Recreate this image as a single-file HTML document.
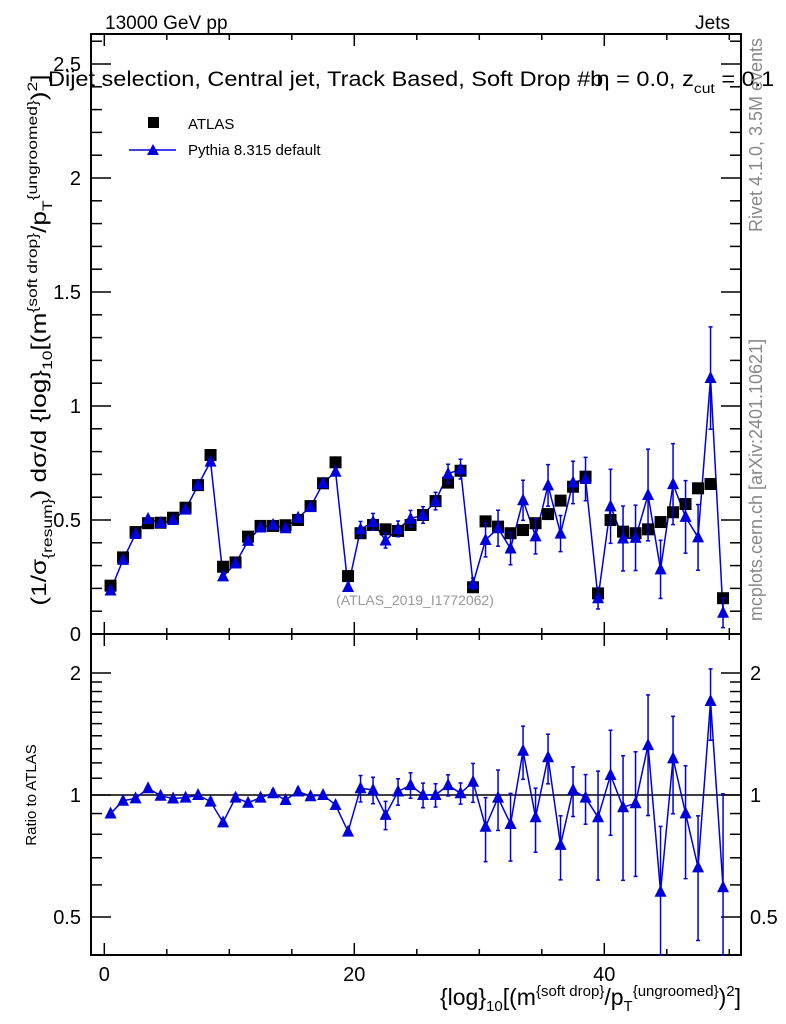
<!DOCTYPE html>
<html><head><meta charset="utf-8"><style>
body{margin:0;background:#fff}
svg{display:block;font-family:"Liberation Sans",sans-serif}
</style></head><body>
<svg id="c" width="786" height="1024" viewBox="0 0 786 1024">
<rect x="0" y="0" width="786" height="1024" fill="#fff"/>
<g id="main"></g>
<g id="ratio"></g>
<text x="105" y="29" font-size="19">13000 GeV pp</text>
<text x="730" y="29" font-size="19" text-anchor="end">Jets</text>
<g transform="translate(48,86) scale(1.12,1)"><text x="0" y="0" font-size="21">Dijet selection, Central jet, Track Based, Soft Drop #b<tspan dx="-6">η = 0.0, z</tspan><tspan font-size="14" dy="7">cut</tspan><tspan dy="-7"> = 0.1</tspan></text></g>
<text x="415" y="605" font-size="14" fill="#999" text-anchor="middle">(ATLAS_2019_I1772062)</text>
<text transform="translate(762,135) rotate(-90)" font-size="18" fill="#888" text-anchor="middle">Rivet 4.1.0,  3.5M events</text>
<text transform="translate(762,480) rotate(-90)" font-size="18" fill="#888" text-anchor="middle">mcplots.cern.ch [arXiv:2401.10621]</text>
<g transform="translate(46,340) rotate(-90) scale(1.25,1)"><text x="0" y="0" font-size="21" text-anchor="middle">(1/σ<tspan font-size="14" dy="6">{resum}</tspan><tspan dy="-6">) dσ/d {log}</tspan><tspan font-size="14" dy="6">10</tspan><tspan dy="-6">[(m</tspan><tspan font-size="14" dy="-9">{soft drop}</tspan><tspan dy="9">/p</tspan><tspan font-size="14" dy="6">T</tspan><tspan font-size="14" dy="-15">{ungroomed}</tspan><tspan dy="9">)</tspan><tspan font-size="14" dy="-9">2</tspan><tspan dy="9">]</tspan></text></g>
<text transform="translate(36,795) rotate(-90)" font-size="15" text-anchor="middle">Ratio to ATLAS</text>
<text x="741" y="1005" font-size="23" text-anchor="end">{log}<tspan font-size="15" dy="6">10</tspan><tspan dy="-6">[(m</tspan><tspan font-size="15" dy="-9">{soft drop}</tspan><tspan dy="9">/p</tspan><tspan font-size="15" dy="6">T</tspan><tspan font-size="15" dy="-15">{ungroomed}</tspan><tspan dy="9">)</tspan><tspan font-size="15" dy="-9">2</tspan><tspan dy="9">]</tspan></text>
<g>
<rect x="148" y="117" width="11" height="11" fill="#000"/>
<text x="188" y="129" font-size="15">ATLAS</text>
<line x1="129" y1="150" x2="176" y2="150" stroke="#0000dd" stroke-width="1.5"/>
<path d="M147,155 L159,155 L153,144 Z" fill="#0000dd"/>
<text x="188" y="155" font-size="15">Pythia 8.315 default</text>
</g>
</svg>
<script>
const xCenters = [];
for (let i = 0; i < 50; i++) xCenters.push(i + 0.5);
const atlasVals = [0.212,0.336,0.447,0.486,0.488,0.51,0.554,0.653,0.785,0.295,0.314,0.427,0.474,0.474,0.477,0.5,0.561,0.661,0.753,0.254,0.442,0.478,0.459,0.452,0.478,0.522,0.583,0.664,0.716,0.205,0.494,0.471,0.442,0.456,0.486,0.526,0.585,0.646,0.69,0.178,0.5,0.449,0.442,0.459,0.491,0.534,0.57,0.639,0.658,0.157];
const ratioVals = [0.9,0.968,0.981,1.039,0.996,0.98,0.985,1.0,0.963,0.856,0.985,0.957,0.985,1.01,0.972,1.02,0.993,1.0,0.945,0.812,1.039,1.029,0.893,1.02,1.058,1.0,1.0,1.058,1.01,1.078,0.835,0.985,0.848,1.286,0.881,1.239,0.753,1.029,0.985,0.881,1.12,0.933,0.954,1.328,0.577,1.231,0.901,0.663,1.706,0.592];
const relErrs = [0.015,0.012,0.012,0.012,0.012,0.012,0.012,0.012,0.02,0.02,0.02,0.015,0.015,0.02,0.015,0.018,0.015,0.015,0.015,0.02,0.075,0.075,0.08,0.075,0.072,0.07,0.066,0.06,0.06,0.11,0.18,0.17,0.19,0.15,0.18,0.14,0.18,0.14,0.14,0.3,0.29,0.34,0.34,0.33,0.45,0.27,0.31,0.34,0.2,0.7];
const mainTicks = [0,0.5,1,1.5,2,2.5];
const mainTickLabels = ["0","0.5","1","1.5","2","2.5"];
const ratioTicks = [0.5,1,2];
const ratioTickLabels = ["0.5","1","2"];
const xTicks = [0,20,40];
const xTickLabels = ["0","20","40"];

const NS = "http://www.w3.org/2000/svg";
const L = 91, R = 741, MT = 34, MB = 634, RB = 955;
const X = v => 104.3 + v * 12.5;
const Y = v => 634 - v * 228;
const YR = v => 795 - Math.log10(v) * 405.3;
const BLUE = "#0000dd";
function mk(parent, tag, attrs) {
  const e = document.createElementNS(NS, tag);
  for (const k in attrs) e.setAttribute(k, attrs[k]);
  parent.appendChild(e);
  return e;
}
const main = document.getElementById("main");
const ratio = document.getElementById("ratio");

let f = mk(main, "rect", {x: L, y: MT, width: R - L, height: MB - MT, fill: "none", stroke: "#000", "stroke-width": 2});


f = mk(ratio, "rect", {x: L, y: MB, width: R - L, height: RB - MB, fill: "none", stroke: "#000", "stroke-width": 2});



for (let v = 0; v <= 50; v += 5) {
  const major = xTicks.indexOf(v) >= 0;
  const len = major ? 12 : 6;
  const px = X(v);
  [[MT, 1], [MB, -1], [MB, 1], [RB, -1]].forEach(([y0, d]) => {
    const t = mk(main, "line", {x1: px, x2: px, y1: y0, y2: y0 + d * len, stroke: "#000", "stroke-width": 1.5});
    
    
  });
}
xTicks.forEach((v, i) => {
  const t = mk(ratio, "text", {x: X(v), y: 981, "font-size": 20, "text-anchor": "middle"});
  t.textContent = xTickLabels[i];
  
  
});

for (let k = 0; k <= 26; k++) {
  const v = k / 10;
  const major = k % 5 === 0;
  const len = major ? 20 : 11;
  const py = Y(v);
  if (py < MT) continue;
  [[L, 1], [R, -1]].forEach(([x0, d]) => {
    const t = mk(main, "line", {x1: x0, x2: x0 + d * len, y1: py, y2: py, stroke: "#000", "stroke-width": 1.5});
    
    
  });
}
mainTicks.forEach((v, i) => {
  const t = mk(main, "text", {x: 81, y: Y(v) + 7, "font-size": 20, "text-anchor": "end"});
  t.textContent = mainTickLabels[i];
  
  
});

const rMinor = [0.4,0.5,0.6,0.7,0.8,0.9,1,1.1,1.2,1.3,1.4,1.5,1.6,1.7,1.8,1.9,2,2.5];
rMinor.forEach(v => {
  const major = ratioTicks.indexOf(v) >= 0;
  const len = major ? 20 : 11;
  const py = YR(v);
  if (py > RB || py < MB) return;
  [[L, 1], [R, -1]].forEach(([x0, d]) => {
    const t = mk(ratio, "line", {x1: x0, x2: x0 + d * len, y1: py, y2: py, stroke: "#000", "stroke-width": 1.5});
    
    
  });
});
ratioTicks.forEach((v, i) => {
  [[81, "end"], [750, "start"]].forEach(([x, a]) => {
    const t = mk(ratio, "text", {x: x, y: YR(v) + 7, "font-size": 20, "text-anchor": a});
    t.textContent = ratioTickLabels[i];
    
    
  });
});
let ref = mk(ratio, "line", {x1: L, x2: R, y1: YR(1), y2: YR(1), stroke: "#000", "stroke-width": 1.5});



const pyVals = atlasVals.map((a, i) => a * ratioVals[i]);
function tri(parent, cx, cy, name) {
  const p = mk(parent, "path", {d: `M${cx-6},${cy+5} L${cx+6},${cy+5} L${cx},${cy-7} Z`, fill: BLUE});
  
  
}
function errBar(parent, cx, y1, y2, name) {
  const g = mk(parent, "g", {stroke: BLUE, "stroke-width": 1.5});
  
  
  mk(g, "line", {x1: cx, x2: cx, y1: y1, y2: y2});
  mk(g, "line", {x1: cx - 2, x2: cx + 2, y1: y1, y2: y1});
  mk(g, "line", {x1: cx - 2, x2: cx + 2, y1: y2, y2: y2});
}
let pts = xCenters.map((x, i) => X(x) + "," + Y(pyVals[i])).join(" ");
let pl = mk(main, "polyline", {points: pts, fill: "none", stroke: BLUE, "stroke-width": 1.5});


xCenters.forEach((x, i) => {
  const s = mk(main, "rect", {x: X(x) - 6, y: Y(atlasVals[i]) - 6, width: 12, height: 12, fill: "#000"});
  
  
});
xCenters.forEach((x, i) => {
  const e = pyVals[i] * relErrs[i];
  if (relErrs[i] > 0.03) errBar(main, X(x), Y(pyVals[i] + e), Math.min(MB, Y(pyVals[i] - e)), 'pythia-error-bar');
  tri(main, X(x), Y(pyVals[i]), 'pythia-point');
});
pts = xCenters.map((x, i) => X(x) + "," + YR(ratioVals[i])).join(" ");
pl = mk(ratio, "polyline", {points: pts, fill: "none", stroke: BLUE, "stroke-width": 1.5});


xCenters.forEach((x, i) => {
  const r = ratioVals[i], e = r * relErrs[i];
  const lo = r - e > 0.05 ? Math.min(RB, YR(r - e)) : RB;
  if (relErrs[i] > 0.012) errBar(ratio, X(x), Math.max(MB, YR(r + e)), lo, 'ratio-error-bar');
  tri(ratio, X(x), YR(r), 'ratio-point');
});
</script>
</body></html>
